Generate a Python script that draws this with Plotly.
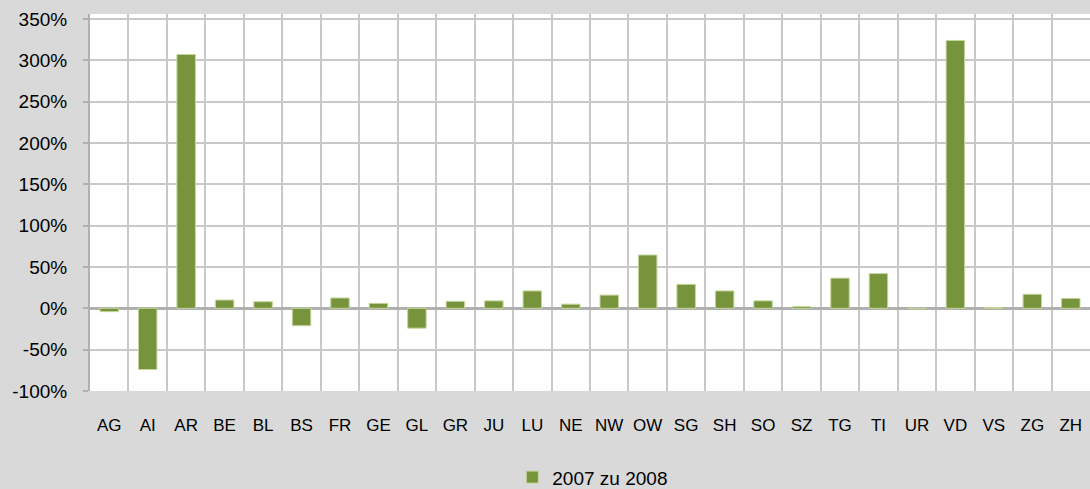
import plotly.graph_objects as go

categories = ["AG", "AI", "AR", "BE", "BL", "BS", "FR", "GE", "GL", "GR", "JU", "LU", "NE",
              "NW", "OW", "SG", "SH", "SO", "SZ", "TG", "TI", "UR", "VD", "VS", "ZG", "ZH"]
values = [-4, -74, 307, 10, 8, -21, 12.5, 6, -24, 8.5, 9, 21, 5,
          16, 64.5, 29, 21, 9, 2, 36.5, 42, -0.6, 324, 1, 17, 12]
series_name = "2007 zu 2008"
y_ticks = [-100, -50, 0, 50, 100, 150, 200, 250, 300, 350]
y_labels = [f"{v}%" for v in y_ticks]

fig = go.Figure()
fig.add_trace(go.Bar(
    x=categories, y=values, name=series_name,
    marker=dict(color="#77933c", line=dict(color="#c3d69b", width=1)),
    showlegend=True,
))

fig.update_layout(
    width=1090, height=489,
    paper_bgcolor="#d9d9d9", plot_bgcolor="#ffffff",
    margin=dict(l=90, r=0, t=14, b=98),
    bargap=0.52,
    font=dict(family="Liberation Sans, Arial, sans-serif", color="#000000"),
    showlegend=True,
    legend=dict(orientation="h", xref="container", yref="container",
                x=0.470, xanchor="left", y=0.024, yanchor="middle",
                font=dict(size=19), bgcolor="rgba(0,0,0,0)", itemwidth=30),
    xaxis=dict(
        type="category", tickson="boundaries", showgrid=True, gridcolor="#c8c8c8", gridwidth=1.5,
        ticks="", tickfont=dict(size=17), ticklabelstandoff=22, tickangle=0,
        showline=False, zeroline=False,
    ),
    yaxis=dict(
        range=[-100, 356], tickvals=y_ticks, ticktext=y_labels,
        showgrid=True, gridcolor="#c8c8c8", gridwidth=1.5,
        zeroline=True, zerolinecolor="#b0b0b0", zerolinewidth=2.5,
        showline=True, linecolor="#b0b0b0", linewidth=2,
        ticks="outside", ticklen=5, tickcolor="#b0b0b0", tickwidth=2,
        tickfont=dict(size=19), ticklabelstandoff=12,
    ),
)

fig.write_html("out.html", config={"displayModeBar": False},
               post_script="document.body.style.margin='0';")
